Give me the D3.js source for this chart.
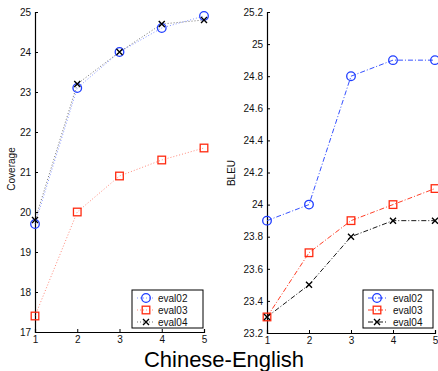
<!DOCTYPE html>
<html>
<head>
<meta charset="utf-8">
<script src="https://cdn.jsdelivr.net/npm/d3@7/dist/d3.min.js"></script>
<style>
  html, body { margin: 0; padding: 0; background: #fff; }
  svg { display: block; font-family: "Liberation Sans", Arial, Helvetica, sans-serif; }
</style>
</head>
<body>
<svg id="chart" width="438" height="371"></svg>
<script>
// Iteration index shared by both panels
const iterations = [1, 2, 3, 4, 5];
const seriesNames = ["eval02", "eval03", "eval04"];

// Coverage per test set
const coverageEval02 = [19.7, 23.1, 24.0, 24.6, 24.9];
const coverageEval03 = [17.4, 20.0, 20.9, 21.3, 21.6];
const coverageEval04 = [19.8, 23.2, 24.0, 24.7, 24.8];

// BLEU per test set
const bleuEval02 = [23.9, 24.0, 24.8, 24.9, 24.9];
const bleuEval03 = [23.3, 23.7, 23.9, 24.0, 24.1];
const bleuEval04 = [23.3, 23.5, 23.8, 23.9, 23.9];

const coverageTicks = [17, 18, 19, 20, 21, 22, 23, 24, 25];
const bleuTicks = [23.2, 23.4, 23.6, 23.8, 24, 24.2, 24.4, 24.6, 24.8, 25, 25.2];
const title = "Chinese-English";

const colors = ["#1f3dff", "#ff2a10", "#000000"];
const markers = ["circle", "square", "cross"];

const svg = d3.select("#chart");

function drawMarker(g, type, color) {
  if (type === "circle") {
    g.append("circle").attr("r", 4.3).attr("fill", "none")
      .attr("stroke", color).attr("stroke-width", 1.3);
  } else if (type === "square") {
    g.append("rect").attr("x", -3.8).attr("y", -3.8).attr("width", 7.6).attr("height", 7.6)
      .attr("fill", "none").attr("stroke", color).attr("stroke-width", 1.3);
  } else {
    g.append("path").attr("d", "M-3,-3L3,3M-3,3L3,-3")
      .attr("stroke", color).attr("stroke-width", 1.4);
  }
}

function panel(opts) {
  const x = d3.scaleLinear().domain([1, 5]).range([opts.x0, opts.x1]);
  const y = d3.scaleLinear().domain(opts.yDomain).range([opts.yBottom, opts.yTop]);
  const g = svg.append("g");

  // axes with inward ticks, MATLAB style
  const yAxis = d3.axisLeft(y).tickValues(opts.yTicks).tickSize(-3).tickPadding(4)
    .tickFormat(d => d3.format("~g")(d));
  const ga = g.append("g").attr("transform", `translate(${opts.x0},0)`).call(yAxis);
  const xAxis = d3.axisBottom(x).tickValues(iterations).tickSize(-3).tickPadding(4)
    .tickFormat(d3.format("d"));
  const gb = g.append("g").attr("transform", `translate(0,${opts.yBottom})`).call(xAxis);
  [ga, gb].forEach(a => {
    a.select(".domain").attr("stroke", "#000").attr("stroke-width", 1.2);
    a.selectAll(".tick line").attr("stroke", "#000");
    a.selectAll("text").attr("font-size", 10).attr("fill", "#111")
      .attr("font-family", "Liberation Sans, Arial, sans-serif");
  });

  // y-axis label
  g.append("text")
    .attr("transform", `translate(${opts.labelX},${opts.labelY}) rotate(-90)`)
    .attr("text-anchor", "middle").attr("font-size", 10).attr("fill", "#111")
    .text(opts.yLabel);

  const line = d3.line().x((d, i) => x(iterations[i])).y(d => y(d));
  opts.series.forEach((vals, si) => {
    g.append("path").datum(vals).attr("d", line)
      .attr("fill", "none").attr("stroke", colors[si])
      .attr("stroke-width", opts.lineWidth).attr("stroke-opacity", opts.lineOpacity)
      .attr("stroke-dasharray", opts.dash);
  });
  opts.series.forEach((vals, si) => {
    vals.forEach((v, i) => {
      const mg = g.append("g").attr("transform", `translate(${x(iterations[i])},${y(v)})`);
      drawMarker(mg, markers[si], colors[si]);
    });
  });

  // legend
  const lg = g.append("g").attr("transform", `translate(${opts.legend.x},${opts.legend.y})`);
  lg.append("rect").attr("width", opts.legend.w).attr("height", 38)
    .attr("fill", "#fff").attr("stroke", "#000").attr("stroke-width", 1);
  seriesNames.forEach((name, si) => {
    const cy = 8 + si * 12;
    lg.append("line").attr("x1", 5).attr("x2", 23).attr("y1", cy).attr("y2", cy)
      .attr("stroke", colors[si]).attr("stroke-width", opts.lineWidth)
      .attr("stroke-opacity", opts.lineOpacity).attr("stroke-dasharray", opts.dash);
    const mg = lg.append("g").attr("transform", `translate(14,${cy})`);
    drawMarker(mg, markers[si], colors[si]);
    lg.append("text").attr("x", opts.legend.tx).attr("y", cy + 3.5)
      .attr("font-size", 10).attr("fill", "#111").text(name);
  });
}

panel({
  x0: 35, x1: 204, yTop: 12, yBottom: 332,
  yDomain: [17, 25], yTicks: coverageTicks, yLabel: "Coverage",
  labelX: 15, labelY: 169,
  series: [coverageEval02, coverageEval03, coverageEval04],
  dash: "1,2", lineWidth: 1, lineOpacity: 0.55,
  legend: { x: 132, y: 290, w: 71, tx: 26 }
});

panel({
  x0: 267, x1: 435, yTop: 12, yBottom: 333,
  yDomain: [23.2, 25.2], yTicks: bleuTicks, yLabel: "BLEU",
  labelX: 235, labelY: 173,
  series: [bleuEval02, bleuEval03, bleuEval04],
  dash: "5,2,1,2", lineWidth: 1, lineOpacity: 0.9,
  legend: { x: 363, y: 290, w: 70, tx: 30 }
});

svg.append("text").attr("x", 224).attr("y", 367).attr("text-anchor", "middle")
  .attr("font-size", 22).attr("fill", "#000").text(title);
</script>
</body>
</html>
